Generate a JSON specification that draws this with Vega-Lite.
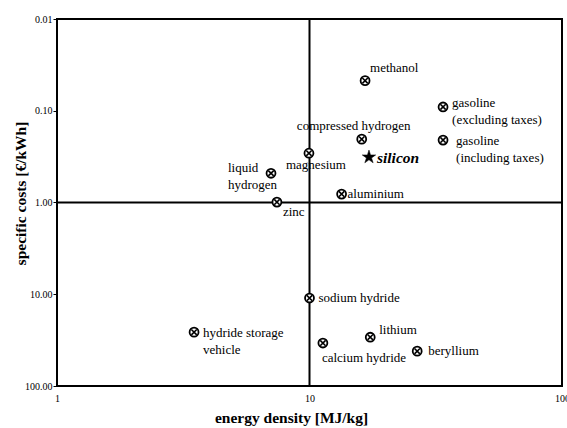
{
  "$schema": "https://vega.github.io/schema/vega-lite/v6.json",
  "width": 505,
  "height": 367,
  "autosize": {"type": "none"},
  "padding": {"left": 57, "top": 19, "right": 5, "bottom": 42},
  "background": "white",
  "config": {
    "view": {"stroke": "black", "strokeWidth": 2}
  },
  "datasets": {
    "pts": [
      {"name": "methanol", "energy": 16.6, "cost": 0.047, "label": "methanol"},
      {"name": "gasoline_ex", "energy": 33.8, "cost": 0.091, "label": "gasoline\n(excluding taxes)"},
      {"name": "gasoline_in", "energy": 33.8, "cost": 0.209, "label": "gasoline\n(including taxes)"},
      {"name": "compressed hydrogen", "energy": 16.1, "cost": 0.204, "label": "compressed hydrogen"},
      {"name": "silicon", "energy": 17.2, "cost": 0.32, "label": "silicon"},
      {"name": "aluminium", "energy": 13.4, "cost": 0.81, "label": "aluminium"},
      {"name": "magnesium", "energy": 9.95, "cost": 0.29, "label": "magnesium"},
      {"name": "liquid hydrogen", "energy": 7.04, "cost": 0.48, "label": "liquid\nhydrogen"},
      {"name": "zinc", "energy": 7.43, "cost": 0.99, "label": "zinc"},
      {"name": "sodium hydride", "energy": 10.0, "cost": 11.0, "label": "sodium hydride"},
      {"name": "hydride storage vehicle", "energy": 3.49, "cost": 25.9, "label": "hydride storage\nvehicle"},
      {"name": "lithium", "energy": 17.4, "cost": 29.4, "label": "lithium"},
      {"name": "calcium hydride", "energy": 11.3, "cost": 34.0, "label": "calcium hydride"},
      {"name": "beryllium", "energy": 26.7, "cost": 41.7, "label": "beryllium"}
    ],
    "lines": [{"ex": 10, "cy": 1}]
  },
  "layer": [
    {
      "data": {"name": "lines"},
      "mark": {"type": "rule", "color": "black", "strokeWidth": 2},
      "encoding": {
        "x": {
          "field": "ex", "type": "quantitative",
          "scale": {"type": "log", "domain": [1, 100], "nice": false},
          "axis": {
            "orient": "bottom",
            "values": [1, 10, 100], "format": "d", "ticks": false, "domain": false, "grid": false,
            "labelFont": "Liberation Serif", "labelFontSize": 10, "labelColor": "black", "labelPadding": 7,
            "labelFlush": false, "labelOverlap": false,
            "title": "energy density [MJ/kg]", "titleFont": "Liberation Serif", "titleFontSize": 15.5,
            "titleFontWeight": "bold", "titleColor": "black", "titleX": 234, "titleY": 31,
            "titleBaseline": "middle", "titleAlign": "center"
          }
        }
      }
    },
    {
      "data": {"name": "lines"},
      "mark": {"type": "rule", "color": "black", "strokeWidth": 2},
      "encoding": {
        "y": {
          "field": "cy", "type": "quantitative",
          "scale": {"type": "log", "domain": [0.01, 100], "reverse": true, "nice": false},
          "axis": {
            "orient": "left",
            "values": [0.01, 0.1, 1, 10, 100], "format": ".2f", "tickSize": 4, "tickColor": "black", "tickWidth": 1,
            "domain": false, "grid": false,
            "labelFont": "Liberation Serif", "labelFontSize": 10, "labelColor": "black", "labelPadding": 1,
            "labelFlush": false, "labelOverlap": false,
            "title": "specific costs [€/kWh]", "titleFont": "Liberation Serif", "titleFontSize": 15.5,
            "titleFontWeight": "bold", "titleColor": "black", "titleX": -37, "titleY": 174,
            "titleBaseline": "middle", "titleAlign": "center", "titleAngle": -90
          }
        }
      }
    },
    {
      "data": {"name": "pts"},
      "encoding": {
        "x": {"field": "energy", "type": "quantitative"},
        "y": {"field": "cost", "type": "quantitative"}
      },
      "layer": [
        {
          "transform": [{"filter": {"not": {"field": "name", "equal": "silicon"}}}],
          "mark": {"type": "point", "shape": "circle", "size": 80, "filled": false, "fill": "white", "fillOpacity": 1, "stroke": "black", "strokeWidth": 1.8, "opacity": 1}
        },
        {
          "transform": [{"filter": {"not": {"field": "name", "equal": "silicon"}}}],
          "mark": {"type": "point", "shape": "M -0.6 -0.6 L 0.6 0.6 M -0.6 0.6 L 0.6 -0.6", "size": 80, "filled": false, "stroke": "black", "strokeWidth": 1.6, "opacity": 1}
        },
        {"transform": [{"filter": {"field": "name", "equal": "methanol"}}], "mark": {"type": "text", "font": "Liberation Serif", "fontSize": 13, "baseline": "middle", "align": "left", "dx": 5, "dy": -13}, "encoding": {"text": {"field": "label"}}},
        {"transform": [{"filter": {"field": "name", "equal": "gasoline_ex"}}], "mark": {"type": "text", "font": "Liberation Serif", "fontSize": 13, "lineBreak": "\n", "lineHeight": 17, "baseline": "middle", "align": "left", "dx": 9, "dy": -4}, "encoding": {"text": {"field": "label"}}},
        {"transform": [{"filter": {"field": "name", "equal": "gasoline_in"}}], "mark": {"type": "text", "font": "Liberation Serif", "fontSize": 13, "lineBreak": "\n", "lineHeight": 17, "baseline": "middle", "align": "left", "dx": 13, "dy": 1}, "encoding": {"text": {"field": "label"}}},
        {"transform": [{"filter": {"field": "name", "equal": "compressed hydrogen"}}], "mark": {"type": "text", "font": "Liberation Serif", "fontSize": 13, "baseline": "middle", "align": "center", "dx": -8, "dy": -13}, "encoding": {"text": {"field": "label"}}},
        {"transform": [{"filter": {"field": "name", "equal": "silicon"}}], "mark": {"type": "text", "font": "Liberation Serif", "fontSize": 15.5, "fontWeight": "bold", "fontStyle": "italic", "baseline": "middle", "align": "left", "dx": 8, "dy": 1}, "encoding": {"text": {"field": "label"}}},
        {"transform": [{"filter": {"field": "name", "equal": "aluminium"}}], "mark": {"type": "text", "font": "Liberation Serif", "fontSize": 13, "baseline": "middle", "align": "left", "dx": 6, "dy": 0}, "encoding": {"text": {"field": "label"}}},
        {"transform": [{"filter": {"field": "name", "equal": "magnesium"}}], "mark": {"type": "text", "font": "Liberation Serif", "fontSize": 13, "baseline": "middle", "align": "center", "dx": 7, "dy": 12}, "encoding": {"text": {"field": "label"}}},
        {"transform": [{"filter": {"field": "name", "equal": "liquid hydrogen"}}], "mark": {"type": "text", "font": "Liberation Serif", "fontSize": 13, "lineBreak": "\n", "lineHeight": 17, "baseline": "middle", "align": "left", "dx": -43, "dy": -5}, "encoding": {"text": {"field": "label"}}},
        {"transform": [{"filter": {"field": "name", "equal": "zinc"}}], "mark": {"type": "text", "font": "Liberation Serif", "fontSize": 13, "baseline": "middle", "align": "left", "dx": 6, "dy": 10}, "encoding": {"text": {"field": "label"}}},
        {"transform": [{"filter": {"field": "name", "equal": "sodium hydride"}}], "mark": {"type": "text", "font": "Liberation Serif", "fontSize": 13, "baseline": "middle", "align": "left", "dx": 9, "dy": 0}, "encoding": {"text": {"field": "label"}}},
        {"transform": [{"filter": {"field": "name", "equal": "hydride storage vehicle"}}], "mark": {"type": "text", "font": "Liberation Serif", "fontSize": 13, "lineBreak": "\n", "lineHeight": 17, "baseline": "middle", "align": "left", "dx": 9, "dy": 1}, "encoding": {"text": {"field": "label"}}},
        {"transform": [{"filter": {"field": "name", "equal": "lithium"}}], "mark": {"type": "text", "font": "Liberation Serif", "fontSize": 13, "baseline": "middle", "align": "left", "dx": 9, "dy": -7}, "encoding": {"text": {"field": "label"}}},
        {"transform": [{"filter": {"field": "name", "equal": "calcium hydride"}}], "mark": {"type": "text", "font": "Liberation Serif", "fontSize": 13, "baseline": "middle", "align": "left", "dx": -1, "dy": 15}, "encoding": {"text": {"field": "label"}}},
        {"transform": [{"filter": {"field": "name", "equal": "beryllium"}}], "mark": {"type": "text", "font": "Liberation Serif", "fontSize": 13, "baseline": "middle", "align": "left", "dx": 11, "dy": 0}, "encoding": {"text": {"field": "label"}}},
        {
          "transform": [{"filter": {"field": "name", "equal": "silicon"}}],
          "mark": {"type": "point", "shape": "M 0 -1 L 0.223 -0.307 L 0.951 -0.309 L 0.361 0.117 L 0.588 0.809 L 0 0.38 L -0.588 0.809 L -0.361 0.117 L -0.951 -0.309 L -0.223 -0.307 Z", "size": 200, "filled": true, "fill": "black", "stroke": "black", "strokeWidth": 0.5, "opacity": 1}
        }
      ]
    }
  ]
}
